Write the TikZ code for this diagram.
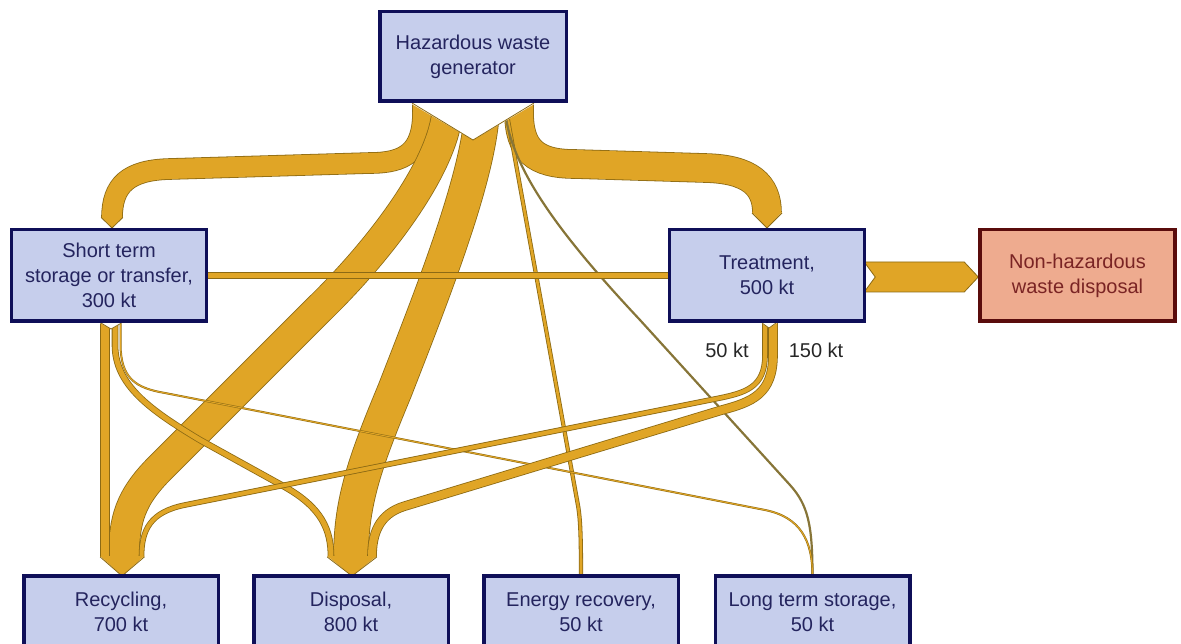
\documentclass[tikz,border=0pt]{standalone}
\usepackage{fontspec}
\setmainfont{Liberation Sans}

\definecolor{flow}{HTML}{E0A526}
\definecolor{flowline}{HTML}{8C6A14}
\definecolor{ltline}{HTML}{877538}
\definecolor{boxfill}{HTML}{C6CEEC}
\definecolor{boxline}{HTML}{0F0F58}
\definecolor{boxtext}{HTML}{24245E}
\definecolor{nhfill}{HTML}{EEAB8F}
\definecolor{nhline}{HTML}{5A0C0C}
\definecolor{nhtext}{HTML}{7A2424}

\pgfdeclarelayer{flows}
\pgfsetlayers{flows,main}

\tikzset{
  stage/.style={draw=boxline, line width=3.5pt, fill=boxfill, text=boxtext,
    align=center, font=\fontsize{20}{25}\selectfont, inner sep=0pt},
  toprow/.style={stage, minimum width=195, minimum height=91.5},
  botrow/.style={stage, minimum width=194.5, minimum height=72.5},
  sink/.style={toprow, draw=nhline, fill=nhfill, text=nhtext},
  flowband/.style={draw=flowline, line width=0.8pt, double=flow, double distance=#1},
  tipedge/.style={draw=flowline, line width=0.8pt},
  qty/.style={text=black!85, font=\fontsize{20}{24}\selectfont, inner sep=0pt},
}

\begin{document}
\begin{tikzpicture}[x=1pt,y=-1pt]
\useasboundingbox (0,0) rectangle (1181,644);
\clip (0,0) rectangle (1181,644);

% ---------- stages ----------
\node[stage, minimum width=186.5, minimum height=89.5] (gen) at (473,56.5) {Hazardous waste\\generator};
\node[toprow] (st)  at (109,275.5)  {Short term\\storage or transfer,\\300 kt};
\node[toprow] (tr)  at (767,275.5)  {Treatment,\\500 kt};
\node[sink]   (nh)  at (1077.5,275.5) {Non-hazardous\\waste disposal};
\node[botrow] (rec) at (121,612) {Recycling,\\700 kt};
\node[botrow] (dis) at (351,612) {Disposal,\\800 kt};
\node[botrow] (en)  at (581,612) {Energy recovery,\\50 kt};
\node[botrow] (lt)  at (812.5,612) {Long term storage,\\50 kt};

\node[qty] (t50)  at (727,350) {50 kt};
\node[qty] (t150) at (816,350) {150 kt};

% ---------- ports on the stages ----------
\coordinate (gS) at ([shift={(-50,-5)}]gen.south);
\coordinate (gR) at ([shift={(-26,-5)}]gen.south);
\coordinate (gD) at ([shift={(9,-5)}]gen.south);
\coordinate (gE) at ([shift={(31,-5)}]gen.south);
\coordinate (gL) at ([shift={(33,-5)}]gen.south);
\coordinate (gT) at ([shift={(46,-5)}]gen.south);
\coordinate (sIn) at ([shift={(3,-10)}]st.north);
\coordinate (sTip) at ([shift={(3,0)}]st.north);
\coordinate (sR) at ([shift={(-4,-3)}]st.south);
\coordinate (sD) at ([shift={(6,-3)}]st.south);
\coordinate (sL) at ([shift={(11.5,-3)}]st.south);
\coordinate (tIn) at ([shift={(0,-15)}]tr.north);
\coordinate (tTip) at (tr.north);
\coordinate (tR) at ([shift={(-2,-3)}]tr.south);
\coordinate (tD) at ([shift={(6,-3)}]tr.south);
\coordinate (rTip) at ([shift={(1,2)}]rec.north);
\coordinate (dTip) at ([shift={(1,2)}]dis.north);
\coordinate (eIn) at ([yshift=-2pt]en.north);
\coordinate (lIn) at ([yshift=-2pt]lt.north);

\begin{pgfonlayer}{flows}
% ---------- flows out of the generator ----------
\draw[flowband=20] (gS) -- (423,112) .. controls (423,152) and (405,163) .. (370,163)
  -- (170,169) .. controls (128,170) and (112,185) .. (sIn);
\draw[flowband=30] (gR) -- (447,115) .. controls (440,170) and (380,250) .. (318,310)
  -- (160,468) .. controls (130,498) and (124,520) .. (124,557);
\draw[flowband=34] (gD) -- (482,112) .. controls (478,180) and (430,300) .. (395,390)
  .. controls (366,460) and (351,500) .. (351,557);
\draw[flowband=28] (gT) -- (519,112) .. controls (519,150) and (535,164) .. (575,164)
  -- (705,168) .. controls (750,169) and (767,185) .. (tIn);
\draw[flowband=2.6] (gE) -- (577,500) .. controls (580,515) and (581,528) .. (eIn);
\draw[ltline, line width=2.2pt] (gL) -- (506,118) .. controls (515,175) and (565,240) .. (640,320)
  -- (790,485) .. controls (808,505) and (812.5,525) .. (lIn);

% ---------- flows out of short term storage ----------
\draw[flowband=4.5] ([xshift=-3pt]st.east) -- ([xshift=3pt]tr.west);
\draw[flowband=8] (sR) -- (105,557);
\draw[flowband=5] (sD) -- (115,345) .. controls (115,385) and (150,410) .. (200,440)
  -- (285,487) .. controls (322,508) and (331,530) .. (331,557);
\draw[flowband=1, line width=0.5pt] (sL) -- (120.5,345) .. controls (121,378) and (135,388) .. (165,393)
  -- (765,510) .. controls (800,517) and (812.5,540) .. (lIn);

% ---------- flows out of treatment ----------
\draw[flowband=4] (tR) -- (765,355) .. controls (765,388) and (745,393) .. (715,399)
  -- (185,505) .. controls (150,512) and (141.5,530) .. (141.5,557);
\draw[flowband=8] (tD) -- (773,355) .. controls (773,394) and (752,402) .. (722,410)
  -- (405,506) .. controls (378,514) and (372,535) .. (372,557);
\filldraw[fill=flow, draw=flowline, line width=0.8pt]
  ([shift={(-2,-13.5)}]tr.east) -- ([shift={(-14,-13.5)}]nh.west) -- ([yshift=-1.5pt]nh.west)
  -- ([shift={(-14,16.5)}]nh.west) -- ([shift={(-2,16.5)}]tr.east) -- ([shift={(9,1.5)}]tr.east) -- cycle;

% ---------- arrow points ----------
\fill[flow] (101.2,217) -- (122.8,217) -- (sTip) -- cycle;
\draw[tipedge] (101.2,217.5) -- (sTip) -- (122.8,217.5);
\fill[flow] (752,212) -- (782,212) -- (tTip) -- cycle;
\draw[tipedge] (752,213) -- (tTip) -- (782,213);
\fill[flow] (100.2,556) -- (144.3,556) -- (rTip) -- cycle;
\draw[tipedge] (100.2,557) -- (rTip) -- (144.3,557);
\fill[flow] (327.2,556) -- (376.8,556) -- (dTip) -- cycle;
\draw[tipedge] (327.2,557) -- (dTip) -- (376.8,557);

% ---------- notched tails ----------
\fill[white] (410,96) -- (410,103) -- (473,140) -- (536,103) -- (536,96) -- cycle;
\draw[tipedge] (412,103) -- (473,140) -- (534,103);
\fill[white] (100,320) -- (100,323) -- (111,329) -- (122,323) -- (122,320) -- cycle;
\draw[tipedge] (101,323) -- (111,329) -- (121.5,323);
\fill[white] (761,320) -- (761,323) -- (769,328) -- (777,323) -- (777,320) -- cycle;
\draw[tipedge] (762,323) -- (769,328) -- (776,323);
\end{pgfonlayer}
\end{tikzpicture}
\end{document}
